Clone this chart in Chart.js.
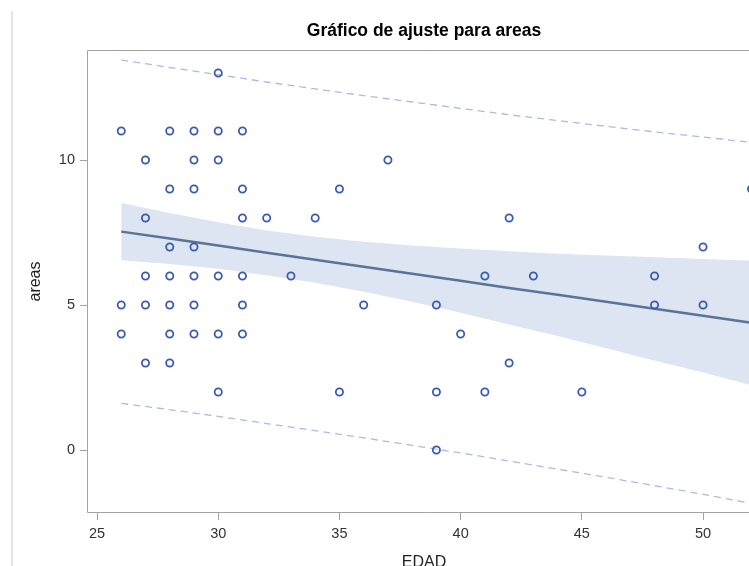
<!DOCTYPE html>
<html>
<head>
<meta charset="utf-8">
<script src="https://cdn.jsdelivr.net/npm/chart.js@4.4.0/dist/chart.umd.min.js"></script>
<style>
  html, body { margin: 0; padding: 0; background: #fff; overflow: hidden; width: 749px; height: 566px; }
  #wrap { position: relative; width: 749px; height: 566px; overflow: hidden; }
  #fitplot { position: absolute; left: 0; top: 0; width: 848px; height: 566px; }
  #edge { position: absolute; left: 11px; top: 11px; bottom: 0; width: 2px; background: #e3e3e3; }
</style>
</head>
<body>
<div id="wrap">
  <canvas id="fitplot" width="848" height="566"></canvas>
  <div id="edge"></div>
</div>
<script>
// observaciones (EDAD, areas)
const edad = [
  30,
  26, 28, 29, 30, 31,
  27, 29, 30, 37,
  28, 29, 31, 35, 52,
  27, 31, 32, 34, 42,
  28, 29, 50,
  27, 28, 29, 30, 31, 33, 41, 43, 48,
  26, 27, 28, 29, 31, 36, 39, 48, 50,
  26, 28, 29, 30, 31, 40,
  27, 28, 42,
  30, 35, 39, 41, 45,
  39
];
const areas = [
  13,
  11, 11, 11, 11, 11,
  10, 10, 10, 10,
  9, 9, 9, 9, 9,
  8, 8, 8, 8, 8,
  7, 7, 7,
  6, 6, 6, 6, 6, 6, 6, 6, 6,
  5, 5, 5, 5, 5, 5, 5, 5, 5,
  4, 4, 4, 4, 4, 4,
  3, 3, 3,
  2, 2, 2, 2, 2,
  0
];

// recta de ajuste y limites
const fitEdad  = [26, 28, 30, 32, 34, 36, 38, 40, 42, 44, 46, 48, 50, 52.2];
const fitAreas = [7.53, 7.29, 7.05, 6.80, 6.56, 6.32, 6.08, 5.84, 5.59, 5.35, 5.11, 4.87, 4.63, 4.36];
const clUpper  = [8.52, 8.17, 7.85, 7.57, 7.35, 7.18, 7.05, 6.95, 6.85, 6.77, 6.71, 6.65, 6.59, 6.53];
const clLower  = [6.54, 6.41, 6.25, 6.03, 5.77, 5.46, 5.11, 4.73, 4.33, 3.93, 3.51, 3.09, 2.67, 2.19];
const plUpper  = [13.45, 13.19, 12.94, 12.69, 12.45, 12.22, 12.00, 11.78, 11.56, 11.36, 11.16, 10.97, 10.79, 10.59];
const plLower  = [1.61, 1.39, 1.16, 0.91, 0.67, 0.42, 0.16, -0.10, -0.38, -0.66, -0.94, -1.23, -1.53, -1.87];

const xTicks = [25, 30, 35, 40, 45, 50];
const yTicks = [0, 5, 10];

function pts(xs, ys) {
  return xs.map((x, i) => ({ x: x, y: ys[i] }));
}

const font = "'Liberation Sans', Arial, sans-serif";
const frameColor = '#a3a3a3';

// marco: izquierda, arriba, abajo
const frame = {
  id: 'frame',
  afterDatasetsDraw(chart) {
    const a = chart.chartArea;
    const ctx = chart.ctx;
    const l = Math.round(a.left) + 0.5, t = Math.round(a.top) + 0.5, b = Math.round(a.bottom) - 0.5;
    ctx.save();
    ctx.strokeStyle = frameColor;
    ctx.lineWidth = 1;
    ctx.beginPath();
    ctx.moveTo(a.right, t);
    ctx.lineTo(l, t);
    ctx.lineTo(l, b);
    ctx.lineTo(a.right, b);
    ctx.stroke();
    ctx.restore();
  }
};

const config = {
  type: 'scatter',
  data: {
    datasets: [
      {
        label: 'areas',
        data: pts(edad, areas),
        pointStyle: 'circle',
        pointRadius: 3.6,
        pointBorderWidth: 1.8,
        pointBorderColor: '#3a5bb0',
        pointBackgroundColor: 'rgba(0,0,0,0)',
        order: 0
      },
      {
        label: 'Ajuste',
        data: pts(fitEdad, fitAreas),
        showLine: true,
        borderColor: '#5b7398',
        borderWidth: 2.5,
        pointRadius: 0,
        order: 1
      },
      {
        label: 'Predicción 95%',
        data: pts(fitEdad, plUpper),
        showLine: true,
        borderColor: '#b0b8e8',
        borderWidth: 1.3,
        borderDash: [7, 5],
        pointRadius: 0,
        order: 2
      },
      {
        label: 'Predicción 95% inf',
        data: pts(fitEdad, plLower),
        showLine: true,
        borderColor: '#b0b8e8',
        borderWidth: 1.3,
        borderDash: [7, 5],
        pointRadius: 0,
        order: 2
      },
      {
        label: 'Confianza 95%',
        data: pts(fitEdad, clUpper),
        showLine: true,
        borderWidth: 0,
        borderColor: 'rgba(0,0,0,0)',
        backgroundColor: '#dce5f1',
        fill: '+1',
        pointRadius: 0,
        order: 3
      },
      {
        label: 'Confianza 95% inf',
        data: pts(fitEdad, clLower),
        showLine: true,
        borderWidth: 0,
        borderColor: 'rgba(0,0,0,0)',
        pointRadius: 0,
        order: 3
      }
    ]
  },
  options: {
    responsive: false,
    animation: false,
    devicePixelRatio: 1,
    layout: { padding: 0 },
    plugins: {
      legend: { display: false },
      tooltip: { enabled: false },
      title: {
        display: true,
        text: 'Gráfico de ajuste para areas',
        color: '#000',
        font: { family: font, size: 17.5, weight: 'bold', lineHeight: 1.2 },
        padding: { top: 21, bottom: 8 }
      }
    },
    scales: {
      x: {
        type: 'linear',
        position: 'bottom',
        min: 24.587,
        max: 52.39,
        afterBuildTicks: s => { s.ticks = xTicks.map(v => ({ value: v })); },
        afterFit: s => { s.height = 53; },
        grid: { display: true, drawOnChartArea: false, drawTicks: true, tickLength: 7, color: frameColor },
        border: { display: false },
        ticks: { color: '#333', padding: 5, font: { family: font, size: 14.5 }, maxRotation: 0 },
        title: {
          display: true,
          text: 'EDAD',
          color: '#222',
          font: { family: font, size: 16, lineHeight: 0.4 },
          padding: 0
        }
      },
      y: {
        type: 'linear',
        position: 'left',
        min: -2.172,
        max: 13.793,
        afterBuildTicks: s => { s.ticks = yTicks.map(v => ({ value: v })); },
        afterFit: s => { s.width = 87; },
        grid: { display: true, drawOnChartArea: false, drawTicks: true, tickLength: 7, color: frameColor },
        border: { display: false },
        ticks: { color: '#333', padding: 5, font: { family: font, size: 14.5 } },
        title: {
          display: true,
          text: 'areas',
          color: '#222',
          font: { family: font, size: 16, lineHeight: 1.2 },
          padding: { top: 26, bottom: 0 }
        }
      },
      y2: {
        type: 'linear',
        position: 'right',
        display: true,
        afterFit: s => { s.width = 87; },
        grid: { display: false, drawTicks: false },
        border: { display: false },
        ticks: { display: false }
      }
    }
  },
  plugins: [frame]
};

const chart = new Chart(document.getElementById('fitplot'), config);
</script>
</body>
</html>
